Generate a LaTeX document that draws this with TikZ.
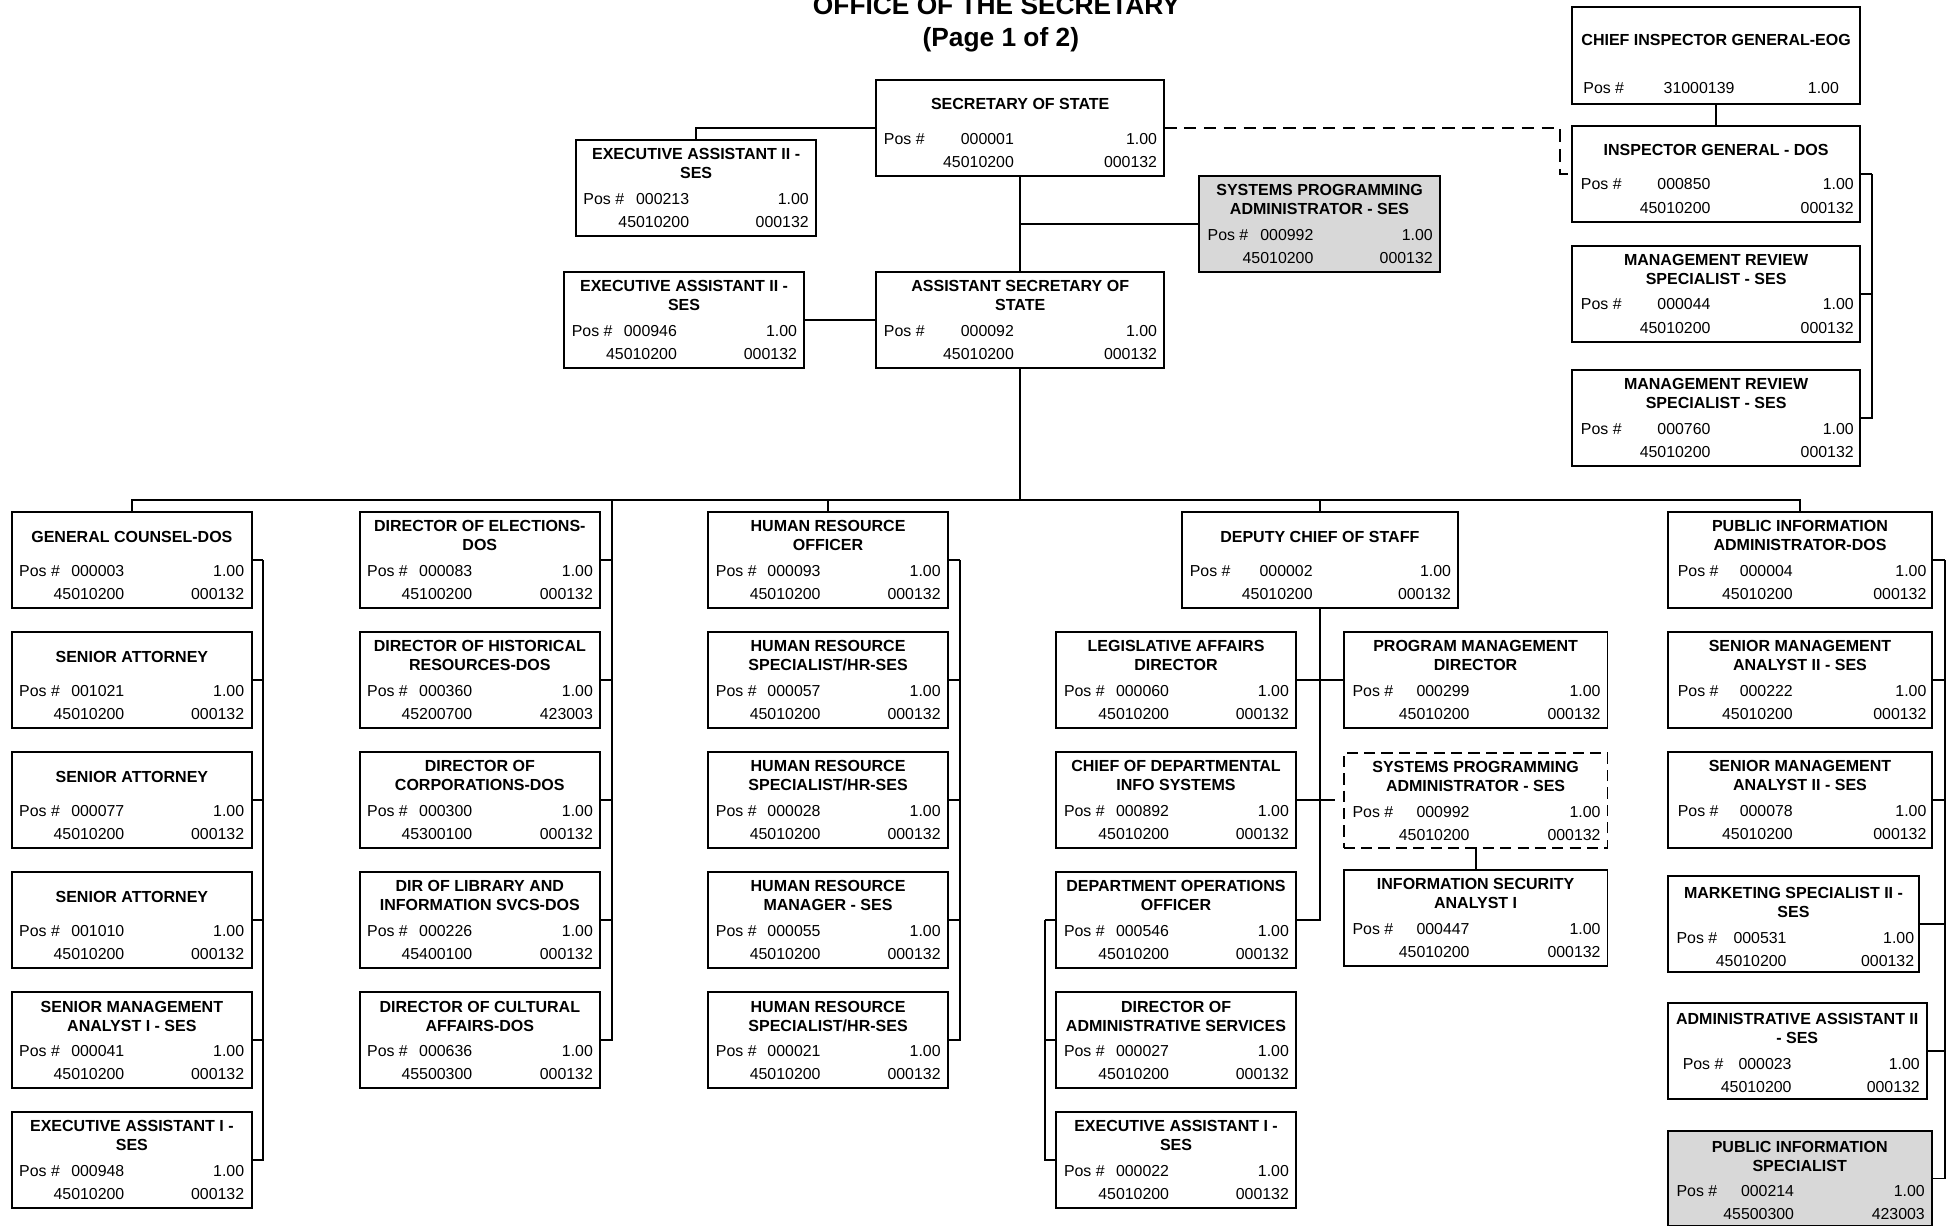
\documentclass[tikz,border=0pt]{standalone}
\usepackage{fontspec}
\setmainfont{Liberation Sans}
\usetikzlibrary{calc}
\definecolor{boxgrey}{RGB}{216,216,216}

\tikzset{
  plainbox/.style={draw, rectangle, line width=1.5pt, inner sep=0pt, outer sep=0pt},
  greybox/.style={plainbox, fill=boxgrey},
  dashbox/.style={plainbox, dash pattern=on 9pt off 5pt},
  conn/.style={draw, line width=1.5pt, line join=miter},
  dashconn/.style={conn, dash pattern=on 10pt off 6pt},
  ttl/.style={anchor=base, inner sep=0pt, font=\fontsize{12.9}{15}\selectfont\bfseries},
  txt/.style={inner sep=0pt, font=\fontsize{12.8}{15}\selectfont},
  heading/.style={anchor=base, inner sep=0pt, font=\fontsize{21.2}{24}\selectfont\bfseries},
}

% box data keys
\pgfkeys{/org/.cd,
  t1/.store in=\oTa, t2/.store in=\oTb, pos/.store in=\oPos, fte/.store in=\oFte,
  bud/.store in=\oBud, code/.store in=\oCode, ncol/.store in=\oNcol, px/.store in=\oPx,
  fr/.store in=\oFr, dy/.store in=\oDy, ty/.store in=\oTy, ry/.store in=\oRy,
  look/.store in=\oLook,
  reset/.style={t1=, t2=, pos=, fte=1.00, bud=45010200, code=000132, ncol=91,
    px=6, fr=5.5, dy=0, ty=24, ry=51.8, look=plainbox}}
\def\oEmpty{}

% \orgbox{name}{left}{top}{right}{bottom}{keys}
\newcommand\orgbox[6]{%
  \pgfkeys{/org/.cd, reset, #6}%
  \pgfmathsetmacro\oCx{(#2+#4)/2}%
  \pgfmathsetmacro\oCy{(#3+#5)/2}%
  \pgfmathsetmacro\oW{#4-#2}%
  \pgfmathsetmacro\oH{#5-#3}%
  \node[\oLook, minimum width=\oW pt, minimum height=\oH pt] (#1) at (\oCx,\oCy) {};
  \ifx\oTb\oEmpty
    \node[ttl] (#1-t) at (\oCx,{#3+\oTy+\oDy}) {\oTa};
  \else
    \node[ttl] (#1-t) at (\oCx,{#3+15.8+\oDy}) {\oTa};
    \node[ttl] (#1-u) at (\oCx,{#3+31.1+\oDy}) {\oTb};
  \fi
  \node[txt, anchor=base west] (#1-p) at ({#2+\oPx},{#3+\oRy+\oDy}) {Pos \#};
  \node[txt, anchor=base east] (#1-n) at ({#2+\oNcol},{#3+\oRy+\oDy}) {\oPos};
  \node[txt, anchor=base east] (#1-f) at ({#4-\oFr},{#3+\oRy+\oDy}) {\oFte};
  \ifx\oBud\oEmpty\else
    \node[txt, anchor=base east] (#1-b) at ({#2+\oNcol},{#3+\oRy+18.6+\oDy}) {\oBud};
    \node[txt, anchor=base east] (#1-c) at ({#4-\oFr},{#3+\oRy+18.6+\oDy}) {\oCode};
  \fi
}

\begin{document}
\begin{tikzpicture}[x=1pt,y=-1pt]
\useasboundingbox (0,0) rectangle (1568,987);

% heading
\node[heading] (head1) at (802.5,12) {OFFICE OF THE SECRETARY};
\node[heading] (head2) at (806,37.6) {(Page 1 of 2)};

% ---- top of the chart
\orgbox{sos}{705.7}{64.4}{937.5}{141.5}{t1=SECRETARY OF STATE, pos=000001, ncol=111}
\orgbox{ea1}{464.2}{112.8}{657}{189.8}{t1=EXECUTIVE ASSISTANT II -, t2=SES, pos=000213, ncol=91, px=5.5}
\orgbox{spa}{965.9}{141.5}{1159.5}{218.8}{t1=SYSTEMS PROGRAMMING, t2=ADMINISTRATOR - SES, pos=000992, ncol=92, px=6.5, look=greybox}
\orgbox{asos}{705.7}{219.3}{937.5}{296.1}{t1=ASSISTANT SECRETARY OF, t2=STATE, pos=000092, ncol=111}
\orgbox{ea2}{454.3}{219.3}{647.5}{296.1}{t1=EXECUTIVE ASSISTANT II -, t2=SES, pos=000946, ncol=91}

% ---- inspector general group
\orgbox{cig}{1266}{5.9}{1498.1}{83.8}{t1=CHIEF INSPECTOR GENERAL-EOG, pos=31000139, bud=, ncol=131, px=9, fr=17, ty=30.9, ry=69.8}
\orgbox{ig}{1266}{101.2}{1498.1}{178.5}{t1=INSPECTOR GENERAL - DOS, pos=000850, ncol=111.7, px=7, fr=5}
\orgbox{mr1}{1266}{197.8}{1498.1}{275.2}{t1=MANAGEMENT REVIEW, t2=SPECIALIST - SES, pos=000044, ncol=111.7, px=7, fr=5}
\orgbox{mr2}{1266}{298}{1498.1}{375.3}{t1=MANAGEMENT REVIEW, t2=SPECIALIST - SES, pos=000760, ncol=111.7, px=7, fr=5}

% ---- general counsel column
\orgbox{gc}{9.6}{412.6}{202.8}{489.6}{t1=GENERAL COUNSEL-DOS, pos=000003, ncol=90.7, px=5.7, fr=6}
\orgbox{sa1}{9.6}{509.2}{202.8}{586.2}{t1=SENIOR ATTORNEY, pos=001021, ncol=90.7, px=5.7, fr=6}
\orgbox{sa2}{9.6}{605.9}{202.8}{682.9}{t1=SENIOR ATTORNEY, pos=000077, ncol=90.7, px=5.7, fr=6}
\orgbox{sa3}{9.6}{702.5}{202.8}{779.5}{t1=SENIOR ATTORNEY, pos=001010, ncol=90.7, px=5.7, fr=6}
\orgbox{sma1}{9.6}{799.2}{202.8}{876.2}{t1=SENIOR MANAGEMENT, t2=ANALYST I - SES, pos=000041, ncol=90.7, px=5.7, fr=6}
\orgbox{eai1}{9.6}{895.8}{202.8}{972.8}{t1=EXECUTIVE ASSISTANT I -, t2=SES, pos=000948, ncol=90.7, px=5.7, fr=6}

% ---- division directors column
\orgbox{doe}{289.8}{412.6}{483}{489.6}{t1=DIRECTOR OF ELECTIONS-, t2=DOS, pos=000083, bud=45100200, ncol=90.7, px=5.7, fr=5.3}
\orgbox{dhr}{289.8}{509.2}{483}{586.2}{t1=DIRECTOR OF HISTORICAL, t2=RESOURCES-DOS, pos=000360, bud=45200700, code=423003, ncol=90.7, px=5.7, fr=5.3}
\orgbox{dcorp}{289.8}{605.9}{483}{682.9}{t1=DIRECTOR OF, t2=CORPORATIONS-DOS, pos=000300, bud=45300100, ncol=90.7, px=5.7, fr=5.3}
\orgbox{dlib}{289.8}{702.5}{483}{779.5}{t1=DIR OF LIBRARY AND, t2=INFORMATION SVCS-DOS, pos=000226, bud=45400100, ncol=90.7, px=5.7, fr=5.3}
\orgbox{dca}{289.8}{799.2}{483}{876.2}{t1=DIRECTOR OF CULTURAL, t2=AFFAIRS-DOS, pos=000636, bud=45500300, ncol=90.7, px=5.7, fr=5.3}

% ---- human resources column
\orgbox{hro}{570}{412.6}{763.7}{489.6}{t1=HUMAN RESOURCE, t2=OFFICER, pos=000093, ncol=91, px=6.4, fr=6}
\orgbox{hrs1}{570}{509.2}{763.7}{586.2}{t1=HUMAN RESOURCE, t2=SPECIALIST/HR-SES, pos=000057, ncol=91, px=6.4, fr=6}
\orgbox{hrs2}{570}{605.9}{763.7}{682.9}{t1=HUMAN RESOURCE, t2=SPECIALIST/HR-SES, pos=000028, ncol=91, px=6.4, fr=6}
\orgbox{hrm}{570}{702.5}{763.7}{779.5}{t1=HUMAN RESOURCE, t2=MANAGER - SES, pos=000055, ncol=91, px=6.4, fr=6}
\orgbox{hrs3}{570}{799.2}{763.7}{876.2}{t1=HUMAN RESOURCE, t2=SPECIALIST/HR-SES, pos=000021, ncol=91, px=6.4, fr=6}

% ---- deputy chief of staff group
\orgbox{dcos}{951.6}{412.6}{1174.2}{489.6}{t1=DEPUTY CHIEF OF STAFF, pos=000002, ncol=105.7, px=6.4, fr=5.4}
\orgbox{lad}{850.3}{509.2}{1043.9}{586.2}{t1=LEGISLATIVE AFFAIRS, t2=DIRECTOR, pos=000060, ncol=91.4, px=6.4, fr=5.7}
\orgbox{cdi}{850.3}{605.9}{1043.9}{682.9}{t1=CHIEF OF DEPARTMENTAL, t2=INFO SYSTEMS, pos=000892, ncol=91.4, px=6.4, fr=5.7}
\orgbox{doo}{850.3}{702.5}{1043.9}{779.5}{t1=DEPARTMENT OPERATIONS, t2=OFFICER, pos=000546, ncol=91.4, px=6.4, fr=5.7}
\orgbox{das}{850.3}{799.2}{1043.9}{876.2}{t1=DIRECTOR OF, t2=ADMINISTRATIVE SERVICES, pos=000027, ncol=91.4, px=6.4, fr=5.7}
\orgbox{eai2}{850.3}{895.8}{1043.9}{972.8}{t1=EXECUTIVE ASSISTANT I -, t2=SES, pos=000022, ncol=91.4, px=6.4, fr=5.7}
\orgbox{pmd}{1082.1}{509.2}{1294.6}{586.2}{t1=PROGRAM MANAGEMENT, t2=DIRECTOR, pos=000299, ncol=101.6, px=7, fr=5.4}
\orgbox{spa2}{1082.1}{606.2}{1294.6}{682.6}{t1=SYSTEMS PROGRAMMING, t2=ADMINISTRATOR - SES, pos=000992, ncol=101.6, px=7, fr=5.4, look=dashbox}
\orgbox{isa}{1082.1}{700.6}{1294.6}{778}{t1=INFORMATION SECURITY, t2=ANALYST I, pos=000447, ncol=101.6, px=7, fr=5.4}

% ---- public information column
\orgbox{pia}{1343}{412.6}{1556.2}{489.6}{t1=PUBLIC INFORMATION, t2=ADMINISTRATOR-DOS, pos=000004, ncol=101, px=8, fr=4.6}
\orgbox{sma2}{1343}{509.2}{1556.2}{586.2}{t1=SENIOR MANAGEMENT, t2=ANALYST II - SES, pos=000222, ncol=101, px=8, fr=4.6}
\orgbox{sma3}{1343}{605.9}{1556.2}{682.9}{t1=SENIOR MANAGEMENT, t2=ANALYST II - SES, pos=000078, ncol=101, px=8, fr=4.6}
\orgbox{mkt}{1343}{705.5}{1545.7}{782.5}{t1=MARKETING SPECIALIST II -, t2=SES, pos=000531, ncol=96, px=7, fr=4, dy=2.5}
\orgbox{aas}{1343}{808}{1551.7}{884.8}{t1=ADMINISTRATIVE ASSISTANT II, t2=- SES, pos=000023, ncol=100, px=12, fr=5.4, dy=1.5}
\orgbox{pis}{1343}{910.6}{1555.7}{987.6}{t1=PUBLIC INFORMATION, t2=SPECIALIST, pos=000214, bud=45500300, code=423003, ncol=102, px=7, fr=5.4, dy=1.5, look=greybox}

% ---- connectors: top
\draw[conn] (sos.south) -- (asos.north);
\draw[conn] (sos.west) -| (ea1.north);
\draw[conn] (spa.west) -- (spa.west -| sos.south);
\draw[conn] (ea2.east) -- (asos.west);
\coordinate (igkink) at (1256.2,102.8);
\draw[dashconn] (sos.east) -- (sos.east -| igkink) |- (ig.west);
\draw[conn] (cig.south) -- (ig.north);
\coordinate (igsp) at ([xshift=9.5pt]ig.east);
\draw[conn] (ig.east) -- (igsp);
\foreach \ch in {mr1,mr2} \draw[conn] (\ch.east) -| (igsp);

% ---- connectors: main bus
\coordinate (bus) at (0,402.7);
\draw[conn] (gc.north) -- (gc.north |- bus) -- (pia.north |- bus) -- (pia.north);
\draw[conn] (asos.south) -- (asos.south |- bus);
\draw[conn] (hro.north) -- (hro.north |- bus);
\draw[conn] (dcos.north) -- (dcos.north |- bus);

% general counsel spine
\coordinate (gcsp) at ([xshift=9pt]gc.east);
\draw[conn] (gc.east) -- (gcsp);
\foreach \ch in {sa1,sa2,sa3,sma1,eai1} \draw[conn] (\ch.east) -| (gcsp);

% directors spine (hangs from the bus)
\coordinate (desp) at (493,402.7);
\foreach \ch in {doe,dhr,dcorp,dlib,dca} \draw[conn] (\ch.east) -| (desp);

% human resources spine
\coordinate (hrsp) at ([xshift=9.5pt]hro.east);
\draw[conn] (hro.east) -- (hrsp);
\foreach \ch in {hrs1,hrs2,hrs3,hrm} \draw[conn] (\ch.east) -| (hrsp);

% deputy chief of staff
\draw[conn] (dcos.south) |- (doo.east);
\draw[conn] (lad.east) -- (pmd.west);
\draw[conn] (cdi.east) -- (cdi.east -| dcos.south);
\draw[conn, shorten <=7pt] (spa2.west) -- (spa2.west -| dcos.south);
\draw[conn] (spa2.south) -- (isa.north);
\coordinate (dosp) at ([xshift=-9pt]doo.west);
\draw[conn] (doo.west) -- (dosp);
\foreach \ch in {das,eai2} \draw[conn] (\ch.west) -| (dosp);

% public information spine
\coordinate (piasp) at ([xshift=10pt]pia.east);
\draw[conn] (pia.east) -- (piasp);
\foreach \ch in {sma2,sma3,mkt,aas,pis} \draw[conn] (\ch.east) -| (piasp);

\end{tikzpicture}
\end{document}
